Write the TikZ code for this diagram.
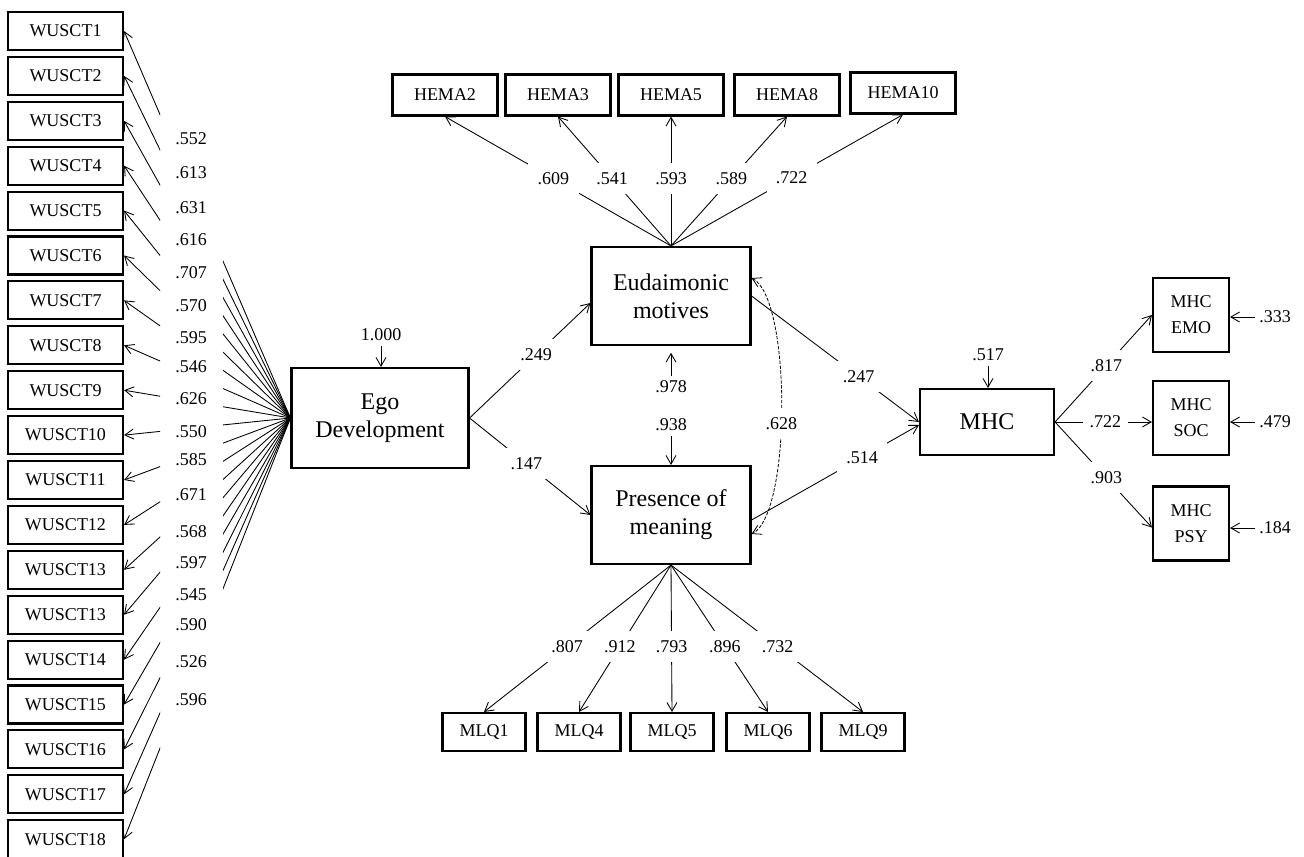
\documentclass[tikz,border=0pt]{standalone}
\usepackage{fontspec}
\setmainfont{Liberation Serif}
\usetikzlibrary{arrows.meta,calc}
\begin{document}
\begin{tikzpicture}[x=0.75pt,y=-0.75pt]
            \tikzstyle{every node}=[font=\fontsize{13.5}{19.5}\selectfont]
            \tikzstyle{obs}=[draw, line width=1.6pt, minimum height=28.5pt, inner sep=0pt, align=center]
            \tikzstyle{lat}=[draw, line width=1.6pt, align=center, inner sep=0pt, font=\fontsize{18}{21}\selectfont]
            \tikzstyle{load}=[line width=0.65pt, -{Straight Barb[length=6.5pt,width=7.5pt]}]
            \tikzstyle{corr}=[line width=0.6pt, dash pattern=on 2.5pt off 1.2pt, {Straight Barb[length=6.5pt,width=7.5pt]}-{Straight Barb[length=6.5pt,width=7.5pt]}]
            \tikzstyle{coef}=[fill=white, inner xsep=7pt, inner ysep=7pt]
            \useasboundingbox (0,0) rectangle (1304,857);
            % latent variables
            \node [lat, minimum width=132.75pt, minimum height=75pt] (ego) at (380,418) {Ego\\Development};
            \node [lat, minimum width=119.25pt, minimum height=73.5pt] (eud) at (671,296) {Eudaimonic\\motives};
            \node [lat, minimum width=119.25pt, minimum height=73.5pt] (pom) at (671,515) {Presence of\\meaning};
            \node [lat, minimum width=100.5pt, minimum height=49.5pt] (mhc) at (987,422) {MHC};
            % WUSCT items
            \foreach \k/\lab in {0/1,1/2,2/3,3/4,4/5,5/6,6/7,7/8,8/9,9/10,10/11,11/12,12/13,13/13,14/14,15/15,16/16,17/17,18/18}
                \node [obs, minimum width=86.25pt] (w\k) at (65.5,{31+44.9*\k}) {WUSCT\lab};
            \begin{scope}
                \clip (0,0) rectangle (160,857) (223,0) rectangle (1304,857);
                \foreach \k in {0,...,18}
                    \draw [load] (ego.west) -- (w\k.east);
            \end{scope}
            \foreach \y/\v in {139/.552,173/.613,208/.631,240/.616,273/.707,306/.570,338/.595,367/.546,399/.626,432/.550,460/.585,495/.671,532/.568,563/.597,595/.545,625/.590,662/.526,700/.596}
                \node (wc\y) at (191,\y) {\v};
            % HEMA items
            \foreach \n/\x/\y/\v in {2/445/95/.609,3/558/95/.541,5/671/95/.593,8/787/95/.589,10/903/93/.722} {
                \node [obs, minimum width=78.75pt, minimum height=30.75pt] (h\n) at (\x,\y) {HEMA\n};
                \draw [load] (eud.north) -- node [coef, pos=0.52] (hc\n) {\v} (h\n.south);
            }
            % MLQ items
            \foreach \n/\x/\v in {1/484/.807,4/579/.912,5/672/.793,6/768/.896,9/863/.732} {
                \node [obs, minimum width=62.25pt] (m\n) at (\x,732) {MLQ\n};
                \draw [load] (pom.south) -- node [coef, pos=0.555] (mc\n) {\v} (m\n.north);
            }
            % MHC subscales
            \node [obs, minimum width=57pt, minimum height=55.5pt] (emo) at (1191,315) {MHC\\EMO};
            \node [obs, minimum width=57pt, minimum height=55.5pt] (soc) at (1191,418) {MHC\\SOC};
            \node [obs, minimum width=57pt, minimum height=55.5pt] (psy) at (1191,523.5) {MHC\\PSY};
            % structural paths
            \draw [load] (ego.east) -- node [coef, pos=0.55] (p249) {.249} ($(eud.west)+(0,7)$);
            \draw [load] (ego.east) -- node [coef, pos=0.47] (p147) {.147} (pom.west);
            \draw [load] (eud.east) -- node [coef, pos=0.64] (p247) {.247} (mhc.west);
            \draw [load] ($(pom.east)+(0,5)$) -- node [coef, pos=0.66] (p514) {.514} ($(mhc.west)+(0,3)$);
            \draw [corr] ($(eud.east)+(0,-18)$) .. controls +(40,20) and +(40,-20) .. node [coef, pos=0.55, inner xsep=1pt] (p628) {.628} ($(pom.east)+(0,19)$);
            \draw [load] (mhc.east) -- node [coef, pos=0.53] (p817) {.817} (emo.west);
            \draw [load] (mhc.east) -- node [coef, pos=0.52, inner xsep=5pt] (p722) {.722} (mhc.east -| soc.west);
            \draw [load] (mhc.east) -- node [coef, pos=0.53] (p903) {.903} ($(psy.west)+(0,4)$);
            % residual values
            \node (r1000) at (381,335) {1.000};
            \draw [load] (r1000) -- (r1000 |- ego.north);
            \node (r978) at (671,387) {.978};
            \draw [load] (r978) -- ([yshift=-5pt]eud.south);
            \node (r938) at (671,425) {.938};
            \draw [load] (r938) -- (pom.north);
            \node (r517) at (988,355) {.517};
            \draw [load] (r517) -- (r517 |- mhc.north);
            \node (r333) at (1275,317) {.333};
            \draw [load] (r333.west) -- (r333.west -| emo.east);
            \node (r479) at (1275,422) {.479};
            \draw [load] (r479.west) -- (r479.west -| soc.east);
            \node (r184) at (1275,528) {.184};
            \draw [load] (r184.west) -- (r184.west -| psy.east);
\end{tikzpicture}
\end{document}
